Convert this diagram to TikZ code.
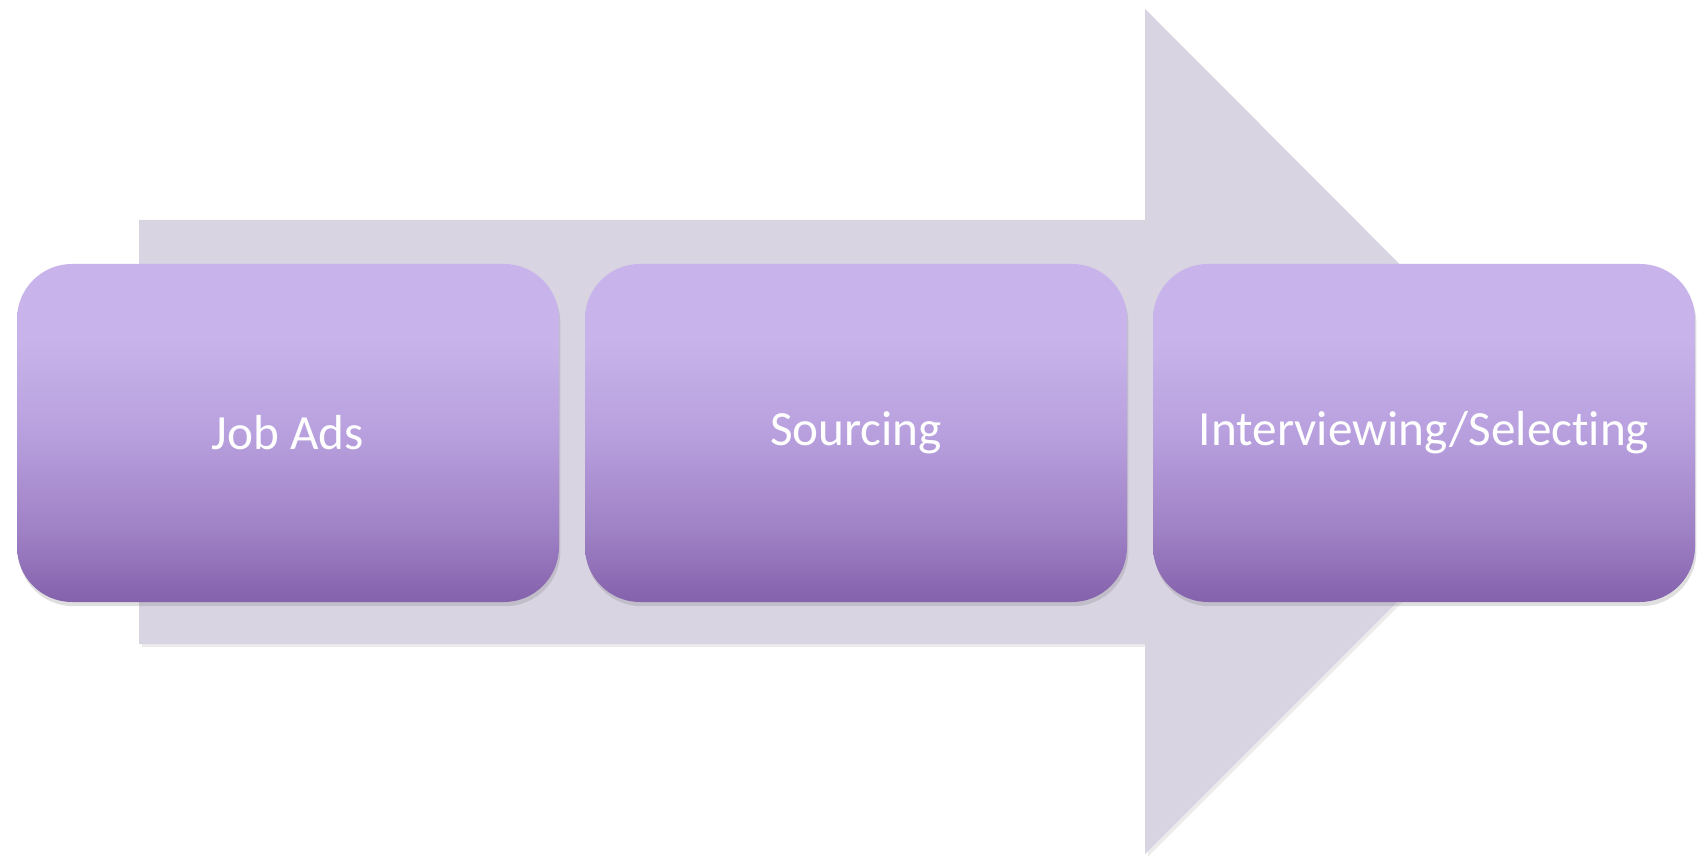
\documentclass[tikz,border=0pt]{standalone}
\usepackage{fontspec}
\newfontfamily\stagefont[RawFeature={-liga}]{Carlito}
\usetikzlibrary{shadows,positioning}

\definecolor{arrowgray}{RGB}{216,212,226}
\definecolor{stagetop}{RGB}{200,180,234}
\definecolor{stagemid}{RGB}{184,160,222}
\definecolor{stagelow}{RGB}{160,130,198}
\definecolor{stagebot}{RGB}{132,98,172}
\pgfdeclareverticalshading{stageshade}{100bp}{color(0bp)=(stagebot); color(25bp)=(stagebot); color(36bp)=(stagelow); color(50bp)=(stagemid); color(64bp)=(stagetop); color(100bp)=(stagetop)}

\begin{document}
\begin{tikzpicture}[
                        node distance=5.68cm,
                        semithick
                    ]
                    \tikzstyle{stage}=[rounded corners=0.55cm,minimum width=5.42cm,minimum height=3.38cm,
                                       shading=stageshade,text=white,font=\stagefont\fontsize{14}{16}\selectfont,
                                       drop shadow={opacity=0.25,shadow xshift=0.4pt,shadow yshift=-1.2pt}]

                    \useasboundingbox (0,0) rectangle (17.06,8.57);

                    % big arrow behind the stages
                    \fill[arrowgray,drop shadow={opacity=0.15,shadow xshift=0.8pt,shadow yshift=-0.8pt}]
                        (1.39,2.13) -- (1.39,6.37) -- (11.45,6.37) -- (11.45,8.48)
                        -- (15.67,4.25) -- (11.45,0.03) -- (11.45,2.13) -- cycle ;

                    \node[stage] (ads)       at (2.88,4.24)     {Job Ads} ;
                    \node[stage] (sourcing)  [right of=ads]      {Sourcing} ;
                    \node[stage] (selecting) [right of=sourcing] {Interviewing/Selecting} ;
                \end{tikzpicture}
\end{document}
